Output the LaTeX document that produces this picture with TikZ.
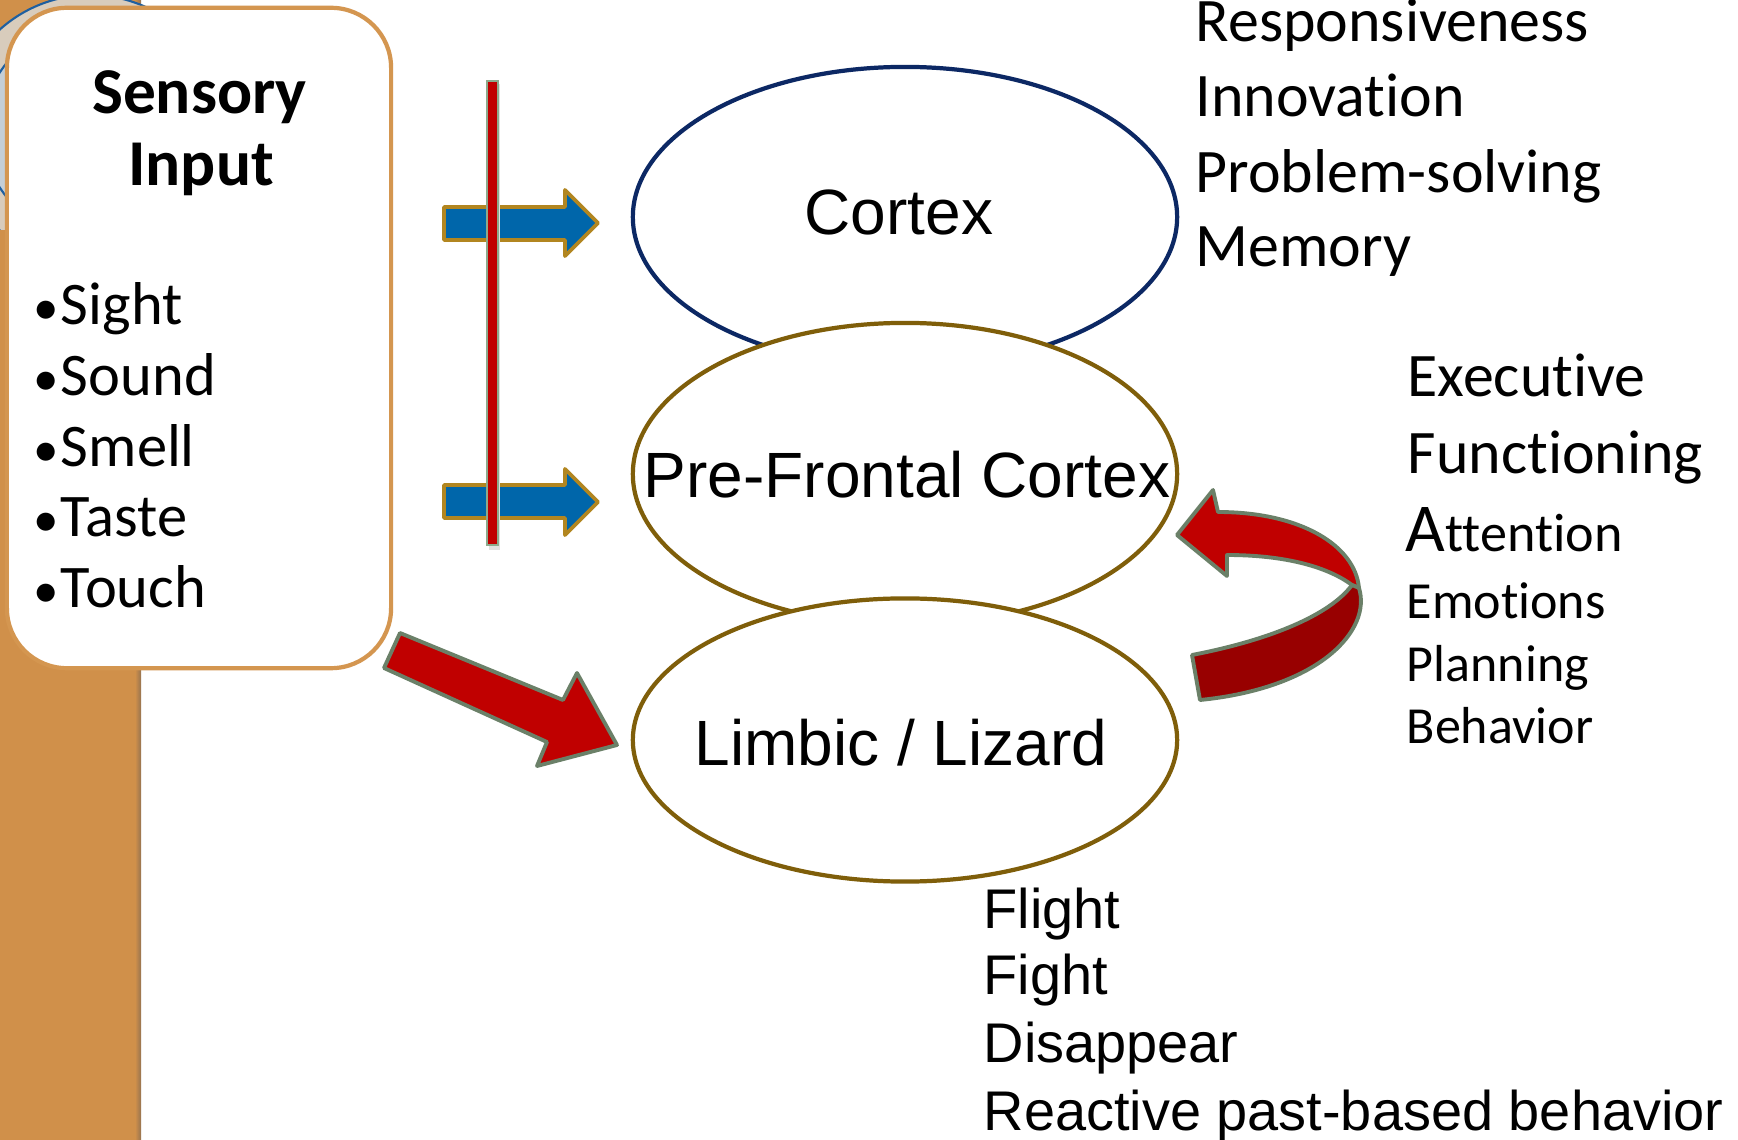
\documentclass[tikz,border=0pt]{standalone}
\usepackage{fontspec}
\setmainfont{Liberation Sans}
\newfontfamily\gillf[Ligatures=NoCommon]{Carlito}
\newfontfamily\arialf{Liberation Sans}
\usetikzlibrary{shapes.geometric}
\definecolor{striporange}{RGB}{208,144,74}
\definecolor{stripedge}{RGB}{150,115,80}
\definecolor{boxorange}{RGB}{212,150,80}
\definecolor{navyline}{RGB}{12,40,100}
\definecolor{oliveline}{RGB}{127,94,10}
\definecolor{arrowblue}{RGB}{0,102,170}
\definecolor{arrowgold}{RGB}{178,134,32}
\definecolor{redA}{RGB}{192,0,0}
\definecolor{redB}{RGB}{152,0,0}
\definecolor{arrowrim}{RGB}{107,128,104}
\definecolor{barrim}{RGB}{140,170,140}
\definecolor{circbeige}{RGB}{216,204,188}
\definecolor{circblue}{RGB}{30,95,160}
\definecolor{circinner}{RGB}{196,206,214}
\newcommand{\blt}{{\fontsize{14.5pt}{17pt}\selectfont•}\kern0.03em}
\tikzset{
  brain/.style={ellipse, fill=white, line width=1.2pt, minimum width=5.44cm, inner sep=0pt, outer sep=0pt},
  bluearrow/.style={fill=arrowblue, draw=arrowgold, line width=1.1pt, line join=round},
  redarrow/.style={draw=arrowrim, line width=1.1pt, line join=round},
  biglist/.style={anchor=base west, inner sep=0pt, font=\gillf\fontsize{17.6pt}{21pt}\selectfont},
  smalllist/.style={anchor=base west, inner sep=0pt, font=\gillf\fontsize{14.8pt}{18pt}\selectfont},
  bulletitem/.style={anchor=base west, inner sep=0pt, font=\gillf\fontsize{17.2pt}{19pt}\selectfont},
  headtext/.style={anchor=base, inner sep=0pt, font=\gillf\bfseries\fontsize{18.6pt}{22pt}\selectfont},
  brainlabel/.style={anchor=base, inner sep=0pt, font=\arialf\fontsize{18.2pt}{22pt}\selectfont},
  reactlist/.style={anchor=base west, inner sep=0pt, font=\arialf\fontsize{15.9pt}{19pt}\selectfont}
}
\begin{document}
\begin{tikzpicture}[x=0.01cm,y=-0.01cm]
\useasboundingbox (0,0) rectangle (1738,1140);
\fill[white] (0,0) rectangle (1738,1140);
% orange side strip
\fill[striporange] (0,0) rectangle (141,1140);
\shade[left color=striporange, right color=stripedge] (135,0) rectangle (141,1140);
% decorative circle (mostly hidden)
\begin{scope}
  \clip (0,0) rectangle (200,230);
  \draw[circblue, fill=circbeige, line width=0.6pt] (90,130) circle[radius=135];
  \draw[circblue, fill=circinner, line width=0.6pt] (90,130) circle[radius=107];
\end{scope}
% sensory box
\node[draw=boxorange, line width=1.2pt, fill=white, rounded corners=0.6cm,
      minimum width=3.84cm, minimum height=6.6cm, inner sep=0pt] (sens) at (199,338) {};
% blue arrows
\draw[bluearrow] (444,207) -- (565,207) -- (565,190) -- (598,223) -- (565,256) -- (565,240) -- (444,240) -- cycle;
\draw[bluearrow] (444,485) -- (565,485) -- (565,469) -- (598,502) -- (565,535) -- (565,518) -- (444,518) -- cycle;
% red vertical bar
\fill[black!12] (489,84) rectangle (500,550);
\draw[fill=redA, draw=barrim, line width=0.4pt] (487,81) rectangle (498,545);
% red diagonal arrow
\draw[redarrow, fill=redA] (400,633) -- (563,700) -- (577,673) -- (617,745) -- (537,766) -- (547,742) -- (384,668) -- cycle;
% ellipses
\node[brain, draw=navyline, minimum height=3.00cm] (cortex) at (905,217) {};
\node[brain, draw=oliveline, minimum height=3.02cm] (pfc) at (905,474) {};
\node[brain, draw=oliveline, minimum height=2.83cm] (limbic) at (905,740) {};
\node[brainlabel] (cortexlbl) at (899,235) {Cortex};
\node[brainlabel] (pfclbl) at (907,498) {Pre-Frontal Cortex};
\node[brainlabel] (limbiclbl) at (901,766) {Limbic / Lizard};
% curved arrow
\draw[redarrow, fill=redA] (1218,512) .. controls (1300,512) and (1355,545) .. (1359,588)
  -- (1352,585) .. controls (1325,565) and (1280,555) .. (1227,555)
  -- (1227,576) -- (1177,535) -- (1213,490) -- cycle;
\draw[redarrow, fill=redB] (1352,585) -- (1359,588) .. controls (1372,630) and (1320,688) .. (1200,700)
  -- (1192,655) .. controls (1270,640) and (1330,615) .. (1352,585) -- cycle;
% sensory text
\node[headtext] (sensory) at (199.5,114) {Sensory};
\node[headtext] (input) at (201,186) {Input};
\node[bulletitem] (sight) at (33,325) {\blt Sight};
\node[bulletitem] (sound) at (33,395.6) {\blt Sound};
\node[bulletitem] (smell) at (33,466.2) {\blt Smell};
\node[bulletitem] (taste) at (33,536.8) {\blt Taste};
\node[bulletitem] (touch) at (33,607.4) {\blt Touch};
% cortex list
\node[biglist] (resp) at (1195,41.7) {Responsiveness};
\node[biglist] (innov) at (1195,116.7) {Innovation};
\node[biglist] (probl) at (1195,193) {Problem-solving};
\node[biglist] (memory) at (1195,266.7) {Memory};
% executive list
\node[biglist] (exec) at (1407,397) {Executive};
\node[biglist] (func) at (1407,474) {Functioning};
\node[smalllist, font=\gillf\fontsize{15.4pt}{18pt}\selectfont] (attn) at (1405,551.7) {{\fontsize{19.5pt}{22pt}\selectfont A}ttention};
\node[smalllist] (emot) at (1406,618.3) {Emotions};
\node[smalllist] (plan) at (1406,681.7) {Planning};
\node[smalllist] (behav) at (1406,743.3) {Behavior};
% limbic list
\node[reactlist] (flight) at (983,928.3) {Flight};
\node[reactlist] (fight) at (983,995) {Fight};
\node[reactlist] (disapp) at (983,1062.7) {Disappear};
\node[reactlist] (react) at (983,1130) {Reactive past-based behavior};
\end{tikzpicture}
\end{document}
